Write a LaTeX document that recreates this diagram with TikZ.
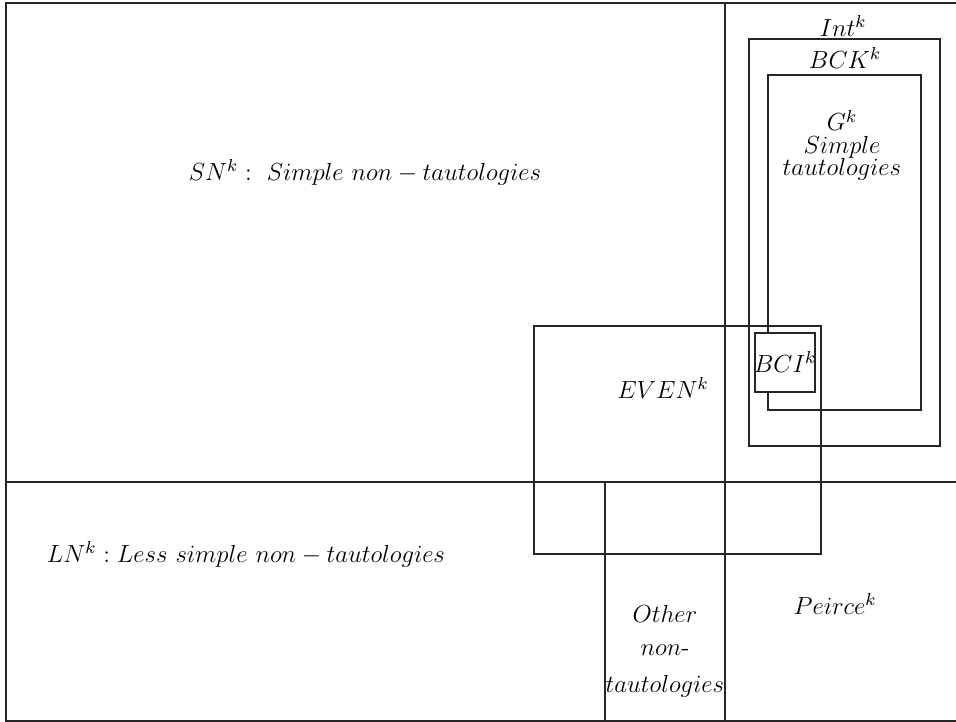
\RequirePackage{fix-cm}
\documentclass[tikz,border=0pt]{standalone}
\begin{document}
\begin{tikzpicture}[x=0.513pt,y=-0.513pt,
  ln/.style={line width=0.75pt,draw=black!85},
  lbl/.style={inner sep=0pt,font=\fontsize{12.7}{14}\selectfont}]
\useasboundingbox (0,0) rectangle (956,722);
% outer frame
\draw[ln] (956,3) -- (6,3) -- (6,721) -- (956,721);
\draw[ln] (6,482) -- (956,482);
\draw[ln] (725,3) -- (725,721);
\draw[ln] (605,482) -- (605,721);
% EVEN box
\draw[ln] (534,326) rectangle (821,554);
% Int box
\draw[ln] (749,39) rectangle (940,446);
% G box
\draw[ln] (768,75) rectangle (921,410);
% BCI box
\draw[ln,fill=white] (755,333) rectangle (815,392);
% labels
\node[lbl] (int) at (843,26) {$Int^k$};
\node[lbl] (bck) at (845,58) {$BCK^k$};
\node[lbl,anchor=base] (g1) at (842,131) {$G^k$};
\node[lbl,anchor=base] (g2) at (842,154) {$Simple$};
\node[lbl,anchor=base] (g3) at (842,176) {$tautologies$};
\node[lbl] (bci) at (785,362) {$BCI^k$};
\node[lbl] (even) at (663,388) {$EVEN^k$};
\node[lbl] (sn) at (365,172) {$SN^k:\ Simple\ non-tautologies$};
\node[lbl] (lnk) at (246,554) {$LN^k: Less\ simple\ non-tautologies$};
\node[lbl] (o1) at (665,614) {$Other$};
\node[lbl] (o2) at (665,650) {$non$-};
\node[lbl] (o3) at (665,686) {$tautologies$};
\node[lbl] (peirce) at (835,604) {$Peirce^k$};
\end{tikzpicture}
\end{document}
